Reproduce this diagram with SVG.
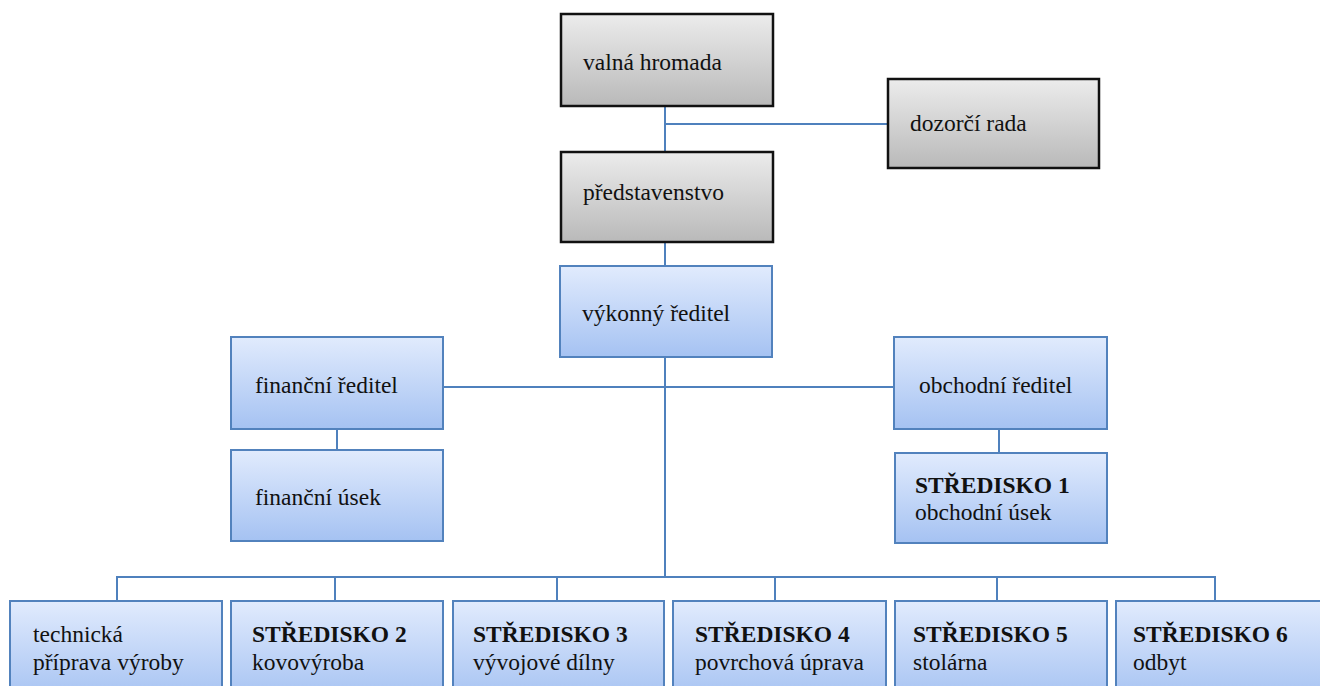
<svg xmlns="http://www.w3.org/2000/svg" width="1320" height="686" viewBox="0 0 1320 686">
<defs>
<linearGradient id="gBlue" x1="0" y1="0" x2="0" y2="1">
<stop offset="0" stop-color="#e1ebfd"/>
<stop offset="1" stop-color="#a5c2f2"/>
</linearGradient>
<linearGradient id="gGray" x1="0" y1="0" x2="0" y2="1">
<stop offset="0" stop-color="#ececec"/>
<stop offset="1" stop-color="#b9b9b9"/>
</linearGradient>
<style>
.blue{fill:url(#gBlue);stroke:#5282bd;stroke-width:2}
.gray{fill:url(#gGray);stroke:#111;stroke-width:2.5}
.t{font-family:"Liberation Serif","Times New Roman",serif;font-size:23.5px;fill:#111}
.b{font-weight:bold}
.c{fill:none;stroke:#4f81bd;stroke-width:2}
</style>
</defs>
<g id="connectors">
<path class="c" d="M665,106V152M665,124H888"/>
<path class="c" d="M665,242V266"/>
<path class="c" d="M665,357V577M443,387H894"/>
<path class="c" d="M337,429V450M999,429V453"/>
<path class="c" d="M117,601V577H1215V601M335,577V601M557,577V601M775,577V601M997,577V601"/>
</g>
<g id="valna"><rect class="gray" x="561" y="14" width="212" height="92"/><text class="t" x="583" y="70">valná hromada</text></g>
<g id="dozorci"><rect class="gray" x="888" y="79" width="211" height="89"/><text class="t" x="910" y="131">dozorčí rada</text></g>
<g id="predstavenstvo"><rect class="gray" x="561" y="152" width="212" height="90"/><text class="t" x="583" y="200">představenstvo</text></g>
<g id="vykonny"><rect class="blue" x="560" y="266" width="212" height="91"/><text class="t" x="582" y="321">výkonný ředitel</text></g>
<g id="financni-reditel"><rect class="blue" x="231" y="337" width="212" height="92"/><text class="t" x="255" y="393">finanční ředitel</text></g>
<g id="financni-usek"><rect class="blue" x="231" y="450" width="212" height="91"/><text class="t" x="255" y="505">finanční úsek</text></g>
<g id="obchodni-reditel"><rect class="blue" x="894" y="337" width="213" height="92"/><text class="t" x="919" y="393">obchodní ředitel</text></g>
<g id="stredisko1"><rect class="blue" x="895" y="453" width="212" height="90"/><text class="t" x="915" y="493"><tspan class="b">STŘEDISKO 1</tspan><tspan x="915" y="520">obchodní úsek</tspan></text></g>
<g id="technicka"><rect class="blue" x="10" y="601" width="212" height="100"/><text class="t" x="33" y="642">technická<tspan x="33" y="670">příprava výroby</tspan></text></g>
<g id="stredisko2"><rect class="blue" x="231" y="601" width="212" height="100"/><text class="t" x="252" y="642"><tspan class="b">STŘEDISKO 2</tspan><tspan x="252" y="670">kovovýroba</tspan></text></g>
<g id="stredisko3"><rect class="blue" x="453" y="601" width="211" height="100"/><text class="t" x="473" y="642"><tspan class="b">STŘEDISKO 3</tspan><tspan x="473" y="670">vývojové dílny</tspan></text></g>
<g id="stredisko4"><rect class="blue" x="673" y="601" width="213" height="100"/><text class="t" x="695" y="642"><tspan class="b">STŘEDISKO 4</tspan><tspan x="695" y="670">povrchová úprava</tspan></text></g>
<g id="stredisko5"><rect class="blue" x="895" y="601" width="212" height="100"/><text class="t" x="913" y="642"><tspan class="b">STŘEDISKO 5</tspan><tspan x="913" y="670">stolárna</tspan></text></g>
<g id="stredisko6"><rect class="blue" x="1116" y="601" width="212" height="100"/><text class="t" x="1133" y="642"><tspan class="b">STŘEDISKO 6</tspan><tspan x="1133" y="670">odbyt</tspan></text></g>
</svg>
